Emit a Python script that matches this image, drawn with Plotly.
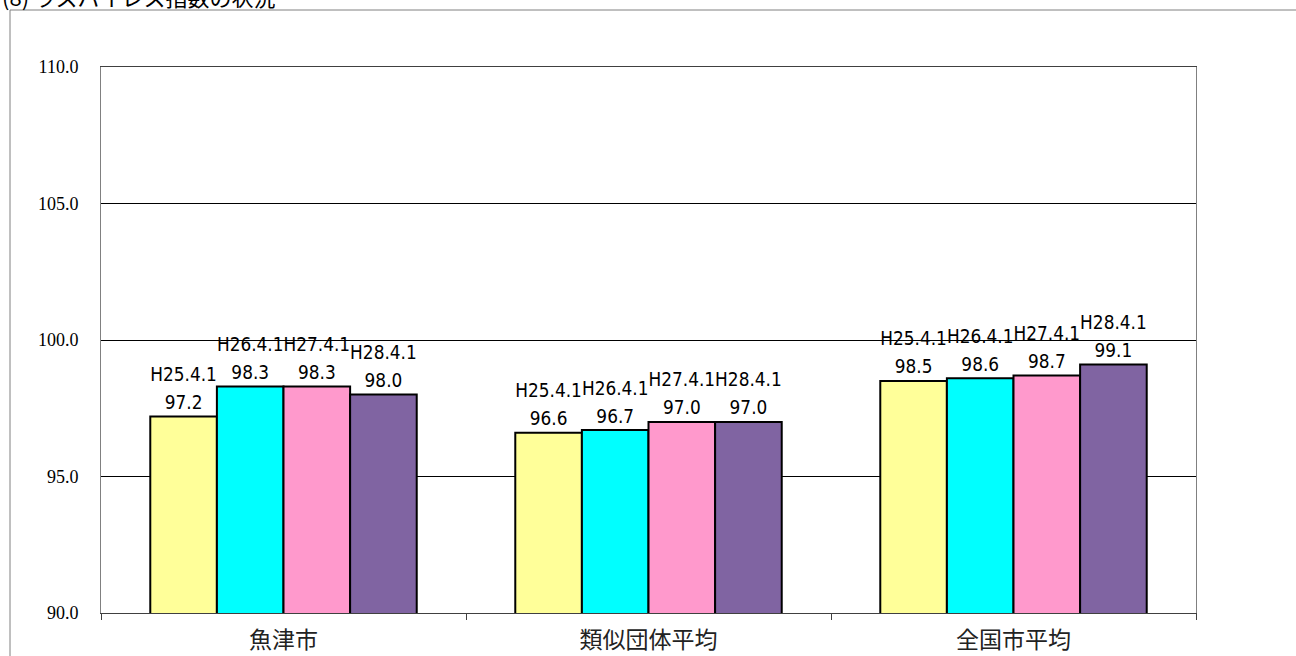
import plotly.graph_objects as go

categories = ["魚津市", "類似団体平均", "全国市平均"]
series_names = ["H25.4.1", "H26.4.1", "H27.4.1", "H28.4.1"]
h25 = [97.2, 96.6, 98.5]
h26 = [98.3, 96.7, 98.6]
h27 = [98.3, 97.0, 98.7]
h28 = [98.0, 97.0, 99.1]
colors = ["#FFFF99", "#00FFFF", "#FF99CC", "#8064A2"]
y_ticks = [90, 95, 100, 105, 110]

W, H = 1296, 656
L, R, T, B = 101, 100, 67, 43
pw, ph = W - L - R, H - T - B

LABEL_FONT = "Liberation Sans Narrow, Arial Narrow, DejaVu Sans Condensed, sans-serif"

def label(name, v):
    sp = "<span style='font-size:21px'>{}</span>"
    return sp.format(name) + "<br>" + sp.format(f"{v:.1f}")

fig = go.Figure()
for name, vals, col in zip(series_names, [h25, h26, h27, h28], colors):
    fig.add_trace(go.Bar(
        x=categories, y=vals, name=name,
        marker=dict(color=col, line=dict(color="black", width=2)),
        text=[label(name, v) for v in vals],
        textposition="outside", cliponaxis=False,
        textfont=dict(family=LABEL_FONT, size=24, color="black"),
        showlegend=False, hoverinfo="skip",
    ))

def px_x(p):
    return (p - L) / pw

def px_y(p):
    return (H - B - p) / ph

fig.update_layout(
    width=W, height=H,
    margin=dict(l=L, r=R, t=T, b=B, pad=0, autoexpand=False),
    paper_bgcolor="white", plot_bgcolor="white",
    barmode="group", bargap=0.27, bargroupgap=0,
    xaxis=dict(
        type="category", showline=True, linecolor="#404040", linewidth=1, mirror=True,
        ticks="outside", tickson="boundaries", ticklen=6, tickcolor="#404040",
        tickfont=dict(family="Noto Sans CJK JP", size=23, color="#222"),
        ticklabelstandoff=6, automargin=False,
        showgrid=False,
    ),
    yaxis=dict(
        range=[90, 110], tickvals=y_ticks, ticktext=[f"{v:.1f}" for v in y_ticks],
        showgrid=True, gridcolor="black", gridwidth=1,
        showline=True, linecolor="#808080", linewidth=1, mirror=True,
        ticks="", ticklabelstandoff=18, automargin=False,
        tickfont=dict(family="Liberation Serif", size=18, color="black"),
        zeroline=False,
    ),
    font=dict(family="Noto Sans CJK JP"),
    shapes=[dict(type="rect", xref="paper", yref="paper",
                 x0=px_x(10), x1=px_x(1400), y0=px_y(800), y1=px_y(10),
                 line=dict(color="#808080", width=1), fillcolor="rgba(0,0,0,0)",
                 layer="below")],
    annotations=[dict(text="(8) ラスパイレス指数の状況", xref="paper", yref="paper",
                      x=px_x(0), y=px_y(-4), xanchor="left", yanchor="middle",
                      showarrow=False,
                      font=dict(family="Noto Sans CJK JP", size=22, color="black"))],
)

fig.write_html("out.html", config={"displayModeBar": False},
               post_script="document.body.style.margin='0';document.body.style.overflow='hidden';")
